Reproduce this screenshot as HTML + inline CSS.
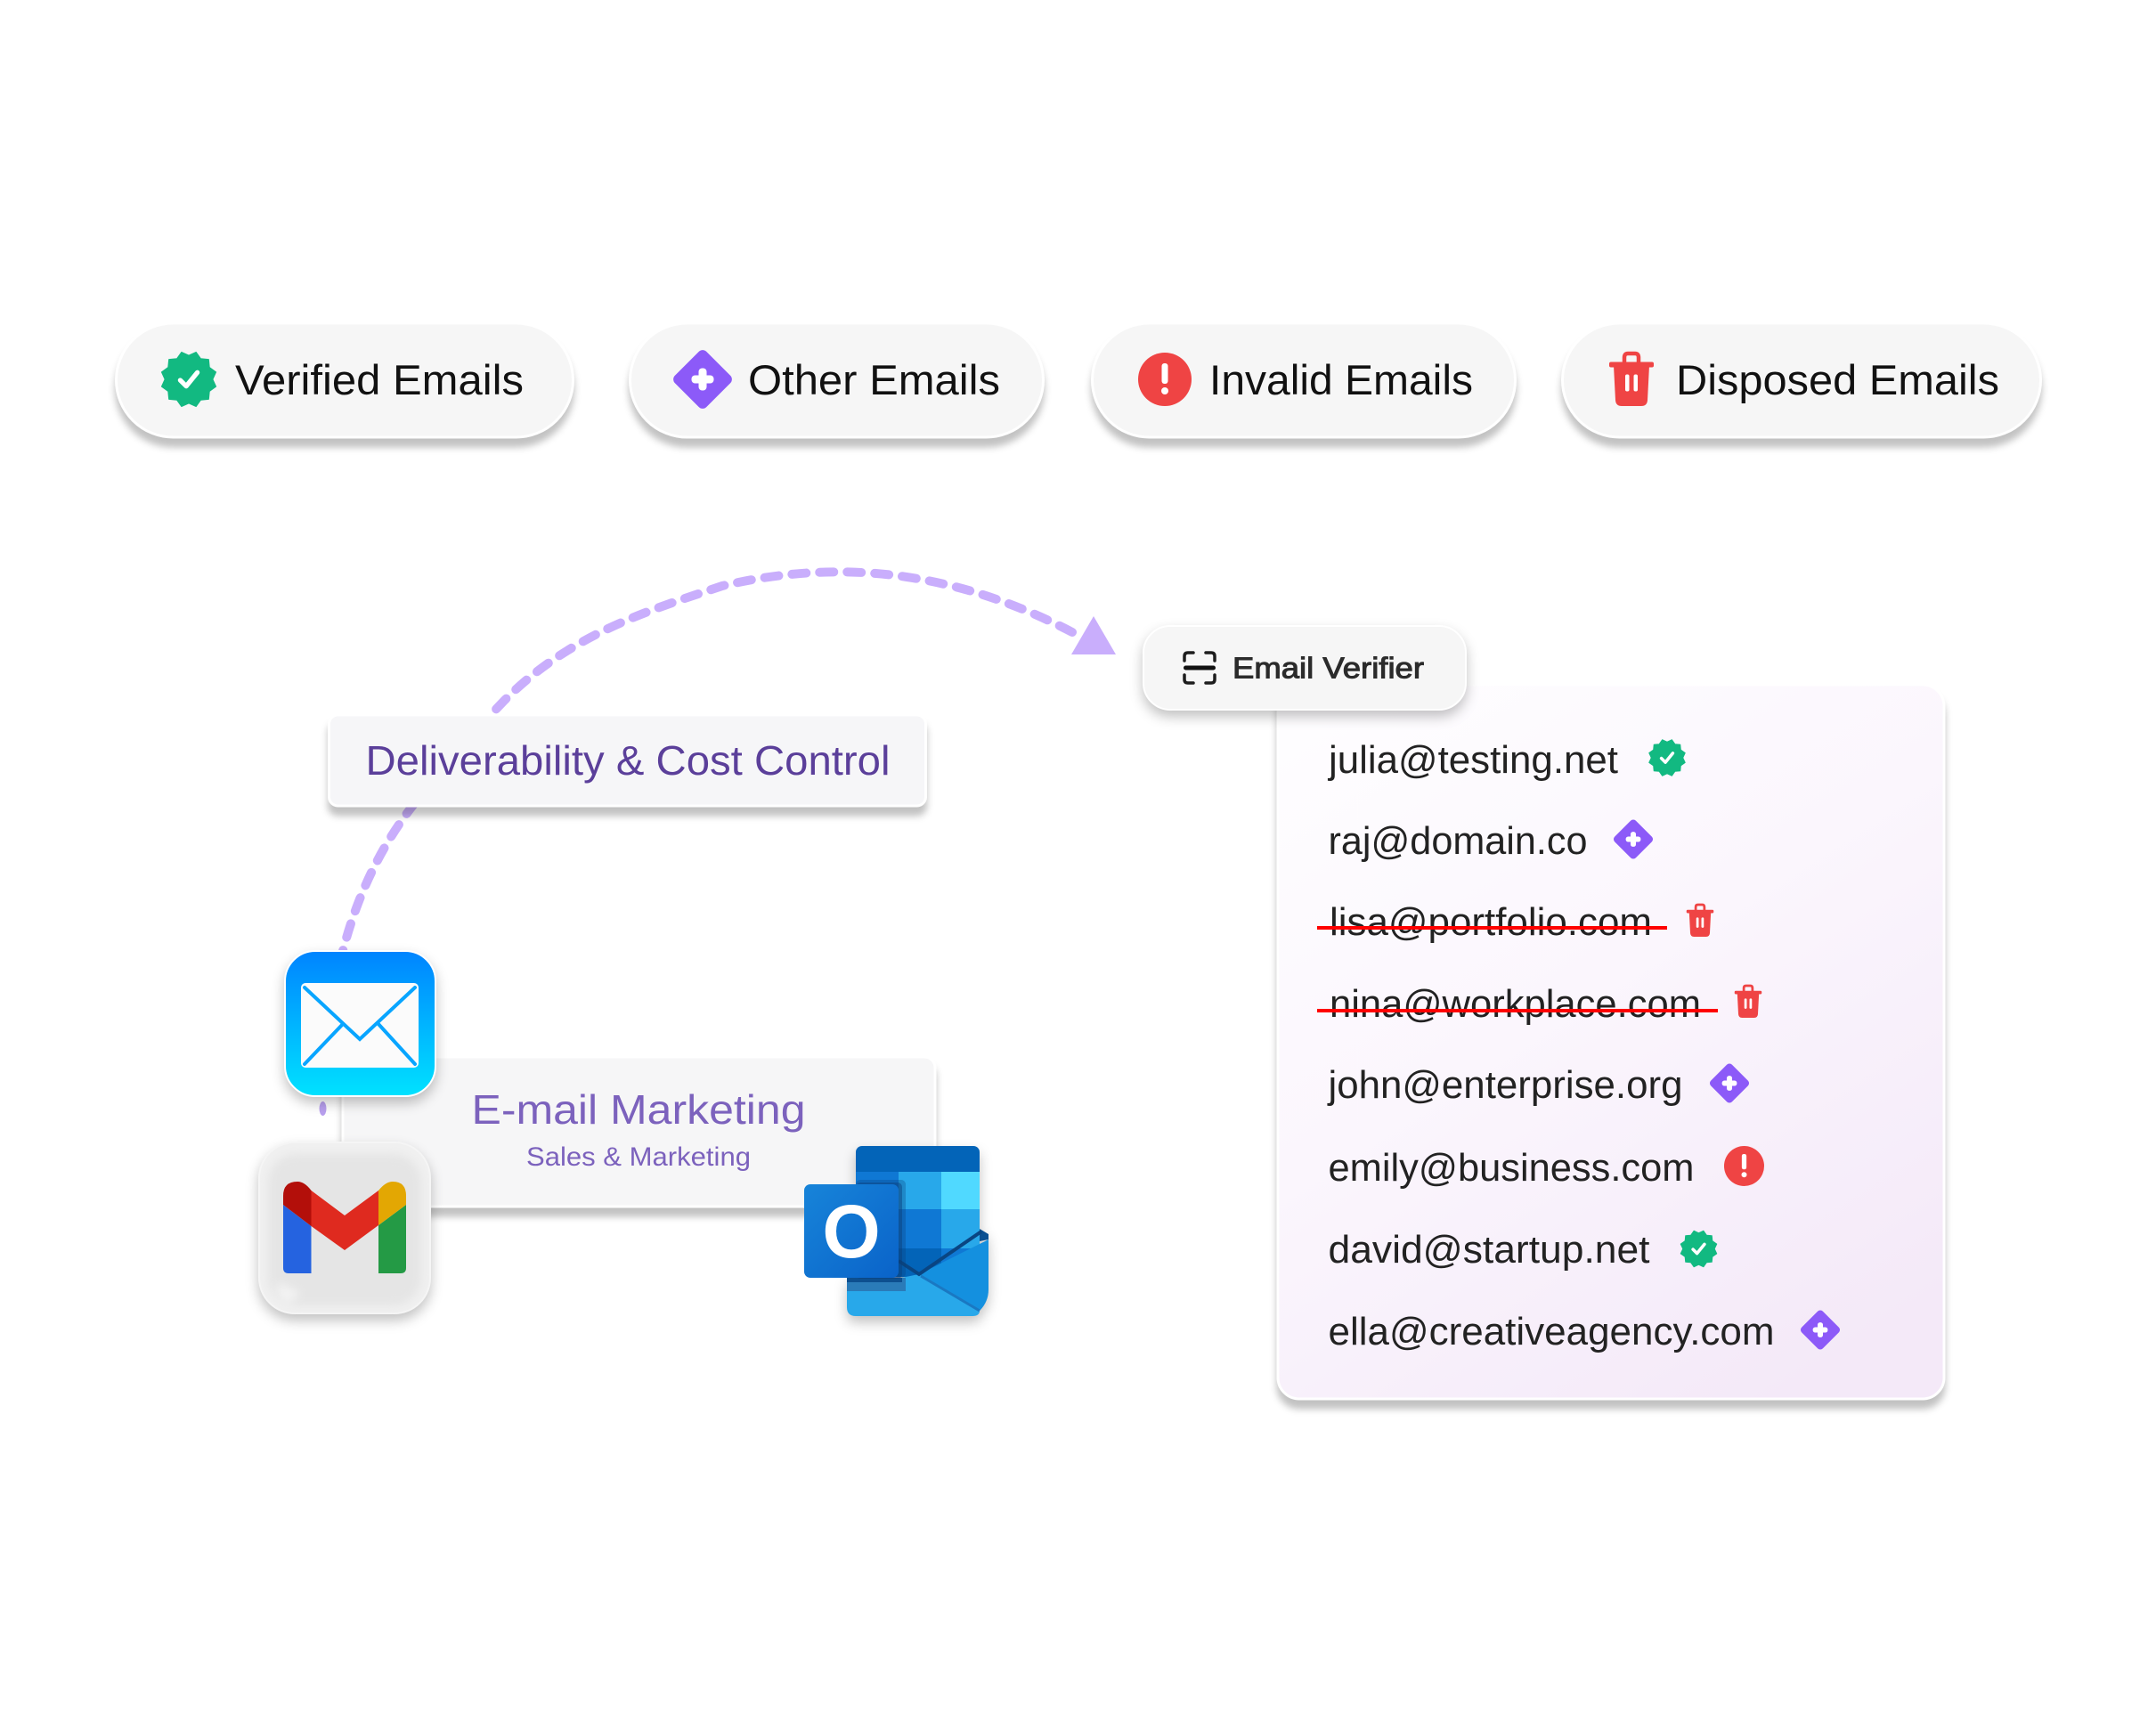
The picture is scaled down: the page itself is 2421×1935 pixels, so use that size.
<!DOCTYPE html>
<html lang="en">
<head>
<meta charset="utf-8">
<title>Email Verification Diagram</title>
<style>
html,body{margin:0;padding:0;background:#fff}
svg{display:block}
text{font-family:"Liberation Sans",sans-serif}
.box{filter:drop-shadow(0 10px 4px rgba(0,0,0,.24))}
.soft{filter:drop-shadow(0 7px 7px rgba(0,0,0,.24))}
.em{font-size:44px;fill:#222}
.pl{font-size:47px;fill:#111}
</style>
</head>
<body>
<svg width="2421" height="1935" viewBox="0 0 2421 1935" xmlns="http://www.w3.org/2000/svg">
<defs>
<linearGradient id="card" x1="0.15" y1="0" x2="0.75" y2="1">
<stop offset="0" stop-color="#fefdff"/><stop offset="0.45" stop-color="#fbf6fd"/><stop offset="1" stop-color="#f4e9f8"/>
</linearGradient>
<linearGradient id="mail" x1="0" y1="0" x2="0" y2="1">
<stop offset="0" stop-color="#0084ff"/><stop offset="1" stop-color="#00e2ff"/>
</linearGradient>
<linearGradient id="ol" x1="0" y1="0" x2="1" y2="1">
<stop offset="0" stop-color="#1784d9"/><stop offset="1" stop-color="#0a63c9"/>
</linearGradient>
<filter id="gblur" x="-20%" y="-20%" width="140%" height="140%"><feGaussianBlur stdDeviation="5"/></filter>
<g id="badge">
<path d="M0 -28 L8.5 -31.9 L14 -24.2 L23.3 -23.3 L24.2 -14 L31.9 -8.5 L28 0 L31.9 8.5 L24.2 14 L23.3 23.3 L14 24.2 L8.5 31.9 L0 28 L-8.5 31.9 L-14 24.2 L-23.3 23.3 L-24.2 14 L-31.9 8.5 L-28 0 L-31.9 -8.5 L-24.2 -14 L-23.3 -23.3 L-14 -24.2 L-8.5 -31.9Z" fill="#12b981" stroke="#12b981" stroke-width="1" stroke-linejoin="round"/>
<path d="M-10 1 L-3 8 L10 -8" fill="none" stroke="#fff" stroke-width="5.5" stroke-linecap="round" stroke-linejoin="round"/>
</g>
<g id="diamond">
<rect x="-25" y="-25" width="50" height="50" rx="6" fill="#8c5af8" transform="rotate(45)"/>
<rect x="-12.5" y="-4.5" width="25" height="9" rx="4" fill="#fff"/>
<rect x="-4.5" y="-12.5" width="9" height="25" rx="4" fill="#fff"/>
</g>
<g id="alert">
<circle r="30" fill="#ef4444"/>
<rect x="-3.5" y="-18" width="7" height="23" rx="3" fill="#fff"/>
<circle cy="13" r="4" fill="#fff"/>
</g>
<g id="trash">
<path d="M-8 -18 V-25 Q-8 -29.500 -4 -29.500 H4 Q8 -29.500 8 -25 V-18" fill="none" stroke="#ef4444" stroke-width="4.500"/>
<rect x="-25" y="-20" width="50" height="6" rx="2" fill="#ef4444"/>
<path d="M-20 -16 H20 L18 23 Q17.500 29.500 11 29.500 H-11 Q-17.500 29.500 -18 23Z" fill="#ef4444"/>
<rect x="-7" y="-6" width="4.500" height="19" rx="2" fill="#fff"/>
<rect x="2.500" y="-6" width="4.500" height="19" rx="2" fill="#fff"/>
</g>
</defs>

<!-- connector -->
<path d="M1204 710 C1060 635 930 630 811 658 C730 685 640 712 566 787 C520 835 490 870 461 908 C425 955 400 1010 385 1068" fill="none" stroke="#c9aefc" stroke-width="10" stroke-dasharray="16 15" stroke-linecap="round"/>
<polygon points="1228,692 1253,735 1203,735" fill="#c9aefc"/>
<ellipse cx="362.500" cy="1245" rx="4" ry="8" fill="#b9a0ef"/>

<!-- pills -->
<g class="box" fill="#f6f6f6" stroke="#fff" stroke-width="3">
<rect x="130.500" y="363" width="513" height="128" rx="64"/>
<rect x="707.500" y="363" width="464" height="128" rx="64"/>
<rect x="1226.500" y="363" width="475" height="128" rx="64"/>
<rect x="1754.500" y="363" width="537" height="128" rx="64"/>
</g>
<use href="#badge" transform="translate(212 426) scale(.96)"/>
<use href="#diamond" transform="translate(789 426)"/>
<use href="#alert" transform="translate(1308 426)"/>
<use href="#trash" transform="translate(1832 426.500)"/>
<text class="pl" x="264" y="443" textLength="324" lengthAdjust="spacingAndGlyphs">Verified Emails</text>
<text class="pl" x="840" y="443" textLength="283" lengthAdjust="spacingAndGlyphs">Other Emails</text>
<text class="pl" x="1358" y="443" textLength="296" lengthAdjust="spacingAndGlyphs">Invalid Emails</text>
<text class="pl" x="1882" y="443" textLength="363" lengthAdjust="spacingAndGlyphs">Disposed Emails</text>

<!-- Deliverability -->
<rect class="box" x="369.500" y="803" width="670" height="102" rx="10" fill="#f6f6f8" stroke="#fff" stroke-width="3"/>
<text x="410.500" y="870" font-size="46" fill="#5b3f9a" textLength="589" lengthAdjust="spacingAndGlyphs">Deliverability &amp; Cost Control</text>

<!-- Marketing card -->
<rect class="box" x="385" y="1187" width="665" height="168" rx="12" fill="#f6f6f7" stroke="#fff" stroke-width="3"/>
<text x="529.500" y="1262" font-size="46" fill="#7c62bd" textLength="375" lengthAdjust="spacingAndGlyphs">E-mail Marketing</text>
<text x="591" y="1309" font-size="30" fill="#7c62bd" textLength="252" lengthAdjust="spacingAndGlyphs">Sales &amp; Marketing</text>

<!-- Mail icon -->
<rect class="soft" x="320" y="1068" width="169" height="163" rx="34" fill="url(#mail)" stroke="#fff" stroke-width="2"/>
<rect x="338" y="1104" width="132" height="95" rx="5" fill="#fbfbfb"/>
<path d="M342 1109 L404 1167 L466 1109 M342 1195 L385 1150 M466 1195 L424 1149" fill="none" stroke="#08a5ff" stroke-width="4" stroke-linecap="round" stroke-linejoin="miter"/>

<!-- Gmail icon -->
<rect class="soft" x="291" y="1283" width="192" height="192" rx="40" fill="#f0f0f0" stroke="#f5f5f5" stroke-width="2"/>
<rect x="301" y="1296" width="172" height="170" rx="32" fill="#e5e5e5" filter="url(#gblur)"/>
<path d="M313 1440 L338 1452 L322 1466 Q312 1456 310 1446Z" fill="#f3f3f3" filter="url(#gblur)"/>
<path d="M318 1353 L349.500 1377 V1430 H324 Q318 1430 318 1424Z" fill="#2563e0"/>
<path d="M425 1376 L456 1353 V1424 Q456 1430 450 1430 H425Z" fill="#249a45"/>
<path d="M318 1353 V1343 Q318 1327 334 1327 Q342 1327 349.500 1337 V1377Z" fill="#b30f0a"/>
<path d="M425 1337 Q433 1327 441 1327 Q456 1327 456 1343 V1353 L425 1376Z" fill="#e3a703"/>
<path d="M349.500 1337 L387 1365 L425 1337 V1376 L387 1404 L349.500 1377Z" fill="#df2a1f"/>

<!-- Outlook icon -->
<g class="soft">
<rect x="961" y="1287" width="139" height="120" rx="7" fill="#0364b8"/>
<rect x="961" y="1316" width="48" height="42" fill="#0f78d4"/>
<rect x="1009" y="1316" width="48" height="42" fill="#28a8ea"/>
<rect x="1057" y="1316" width="43" height="42" fill="#50d9ff"/>
<rect x="961" y="1358" width="48" height="44" fill="#0f78d4"/>
<rect x="1009" y="1358" width="48" height="44" fill="#0f78d4"/>
<rect x="1057" y="1358" width="43" height="44" fill="#28a8ea"/>
<rect x="961" y="1402" width="48" height="32" fill="#0364b8"/>
<rect x="1009" y="1402" width="48" height="32" fill="#0364b8"/>
<rect x="1057" y="1402" width="43" height="32" fill="#0f78d4"/>
<path d="M1032 1431 L1110 1392 V1448 Q1110 1462 1100 1472Z" fill="#1490df"/>
<path d="M1100 1380 L1110 1386 V1392 L1100 1394Z" fill="#0a4f91"/>
<path d="M951 1435 H1012 L1032 1431 L1100 1472 Q1100 1478 1092 1478 H961 Q951 1478 951 1468Z" fill="#28a8ea"/>
<path d="M1009 1416 L1032 1431 L1102 1383" fill="none" stroke="#0a4582" stroke-width="4"/>
<path d="M1034 1433 L1100 1472" fill="none" stroke="#1a78c2" stroke-width="3"/>
</g>
<rect x="951" y="1435" width="66" height="15" fill="#2a7bb8"/>
<rect x="951" y="1435" width="62" height="5" fill="#0d4f8f"/>
<rect x="961" y="1325" width="56" height="110" rx="5" fill="#0a3f7a" opacity=".3"/>
<rect x="961" y="1328" width="52" height="108" rx="5" fill="#0a3f7a" opacity=".45"/>
<rect x="903" y="1330" width="106" height="105" rx="7" fill="url(#ol)"/>
<text x="956" y="1412" font-size="84" font-weight="700" fill="#fff" text-anchor="middle">O</text>

<!-- Email card -->
<rect class="box" x="1435" y="769" width="748" height="802" rx="24" fill="url(#card)" stroke="#fff" stroke-width="3"/>
<text class="em" x="1492" y="868" textLength="325" lengthAdjust="spacingAndGlyphs">julia@testing.net</text>
<text class="em" x="1491.500" y="959" textLength="291" lengthAdjust="spacingAndGlyphs">raj@domain.co</text>
<text class="em" x="1493" y="1050" textLength="362" lengthAdjust="spacingAndGlyphs">lisa@portfolio.com</text>
<text class="em" x="1493" y="1142" textLength="417" lengthAdjust="spacingAndGlyphs">nina@workplace.com</text>
<text class="em" x="1491.500" y="1233" textLength="398" lengthAdjust="spacingAndGlyphs">john@enterprise.org</text>
<text class="em" x="1491.500" y="1326" textLength="411" lengthAdjust="spacingAndGlyphs">emily@business.com</text>
<text class="em" x="1491.500" y="1418" textLength="361" lengthAdjust="spacingAndGlyphs">david@startup.net</text>
<text class="em" x="1491.500" y="1510" textLength="501" lengthAdjust="spacingAndGlyphs">ella@creativeagency.com</text>
<rect x="1479" y="1040" width="393" height="4" fill="#ff0000"/>
<rect x="1479" y="1133" width="450" height="4" fill="#ff0000"/>
<use href="#badge" transform="translate(1872 851) scale(.64)"/>
<use href="#diamond" transform="translate(1834 942.500) scale(.67)"/>
<use href="#trash" transform="translate(1909 1034) scale(.61)"/>
<use href="#trash" transform="translate(1963 1125) scale(.61)"/>
<use href="#diamond" transform="translate(1942 1216.500) scale(.67)"/>
<use href="#alert" transform="translate(1958.500 1309.500) scale(.75)"/>
<use href="#badge" transform="translate(1907.500 1402.500) scale(.64)"/>
<use href="#diamond" transform="translate(2044 1493.500) scale(.67)"/>

<!-- Email Verifier pill -->
<rect class="soft" x="1284" y="703" width="362" height="94" rx="30" fill="#f6f6f6" stroke="#fff" stroke-width="2"/>
<path d="M1330 742 V737 Q1330 733 1334 733 H1340 M1354 733 H1360 Q1364 733 1364 737 V742 M1330 758 V763 Q1330 767 1334 767 H1340 M1354 767 H1360 Q1364 767 1364 763 V758" fill="none" stroke="#1d1d1d" stroke-width="3.500" stroke-linecap="round"/>
<rect x="1329" y="747.500" width="36" height="5" rx="2.500" fill="#111"/>
<text x="1384" y="761.500" font-size="33" fill="#2b2b2b" stroke="#2b2b2b" stroke-width="1" textLength="215" lengthAdjust="spacingAndGlyphs">Email Verifier</text>
</svg>
</body>
</html>
